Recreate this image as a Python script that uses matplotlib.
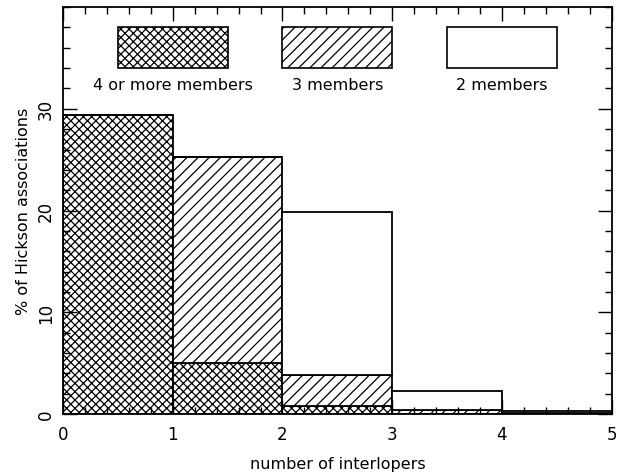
import numpy as np
import matplotlib
matplotlib.use('Agg')
import matplotlib.pyplot as plt
from matplotlib.patches import Rectangle

plt.rcParams['font.family'] = ['DejaVu Sans']
plt.rcParams['hatch.linewidth'] = 0.9

# histogram of interlopers, % of Hickson associations (stacked)
bin_left = np.array([0, 1, 2, 3, 4])
four_plus = np.array([29.4, 5.0, 0.8, 0.0, 0.0])
three_mem = np.array([0.0, 20.3, 3.0, 0.4, 0.1])
two_mem = np.array([0.0, 0.0, 16.1, 1.9, 0.2])

labels = ['4 or more members', '3 members', '2 members']
hatches = ['xxxx', '///', '']

fig = plt.figure(figsize=(6.2, 4.77), dpi=100)
ax = fig.add_axes([0.1016, 0.13, 0.885, 0.853])

bottom = np.zeros(len(bin_left))
for vals, h in zip([four_plus, three_mem, two_mem], hatches):
    ax.bar(bin_left, vals, width=1.0, bottom=bottom, align='edge',
           facecolor='white', edgecolor='black', hatch=h, linewidth=1.3)
    bottom = bottom + vals

# key boxes drawn inside the frame
key_x = [0.5, 2.0, 3.5]
text_x = [1.0, 2.5, 4.0]
for x0, tx, h, lab in zip(key_x, text_x, hatches, labels):
    ax.add_patch(Rectangle((x0, 34), 1.0, 4, facecolor='white', edgecolor='black',
                           hatch=h, linewidth=1.2))
    ax.text(tx, 32.4, lab, ha='center', va='center', fontsize=11.5)

ax.set_xlim(0, 5)
ax.set_ylim(0, 40)
ax.set_xticks([0, 1, 2, 3, 4, 5])
ax.set_xticks(np.arange(0, 5.01, 0.2), minor=True)
ax.set_yticks([0, 10, 20, 30])
ax.set_yticks(np.arange(0, 40.1, 2), minor=True)
ax.tick_params(which='both', direction='in', top=True, right=True, labelsize=12)
ax.tick_params(which='major', length=10, width=1)
ax.tick_params(which='minor', length=5, width=1)
ax.tick_params(axis='x', pad=8)
ax.tick_params(axis='y', pad=6)
for lab in ax.get_yticklabels():
    lab.set_rotation(90)
    lab.set_va('center')
for s in ax.spines.values():
    s.set_linewidth(1.3)

ax.set_xlabel('number of interlopers', fontsize=11.5, labelpad=9)
ax.set_ylabel('% of Hickson associations', fontsize=11.5, labelpad=4)

plt.savefig('out.png', dpi=100)
